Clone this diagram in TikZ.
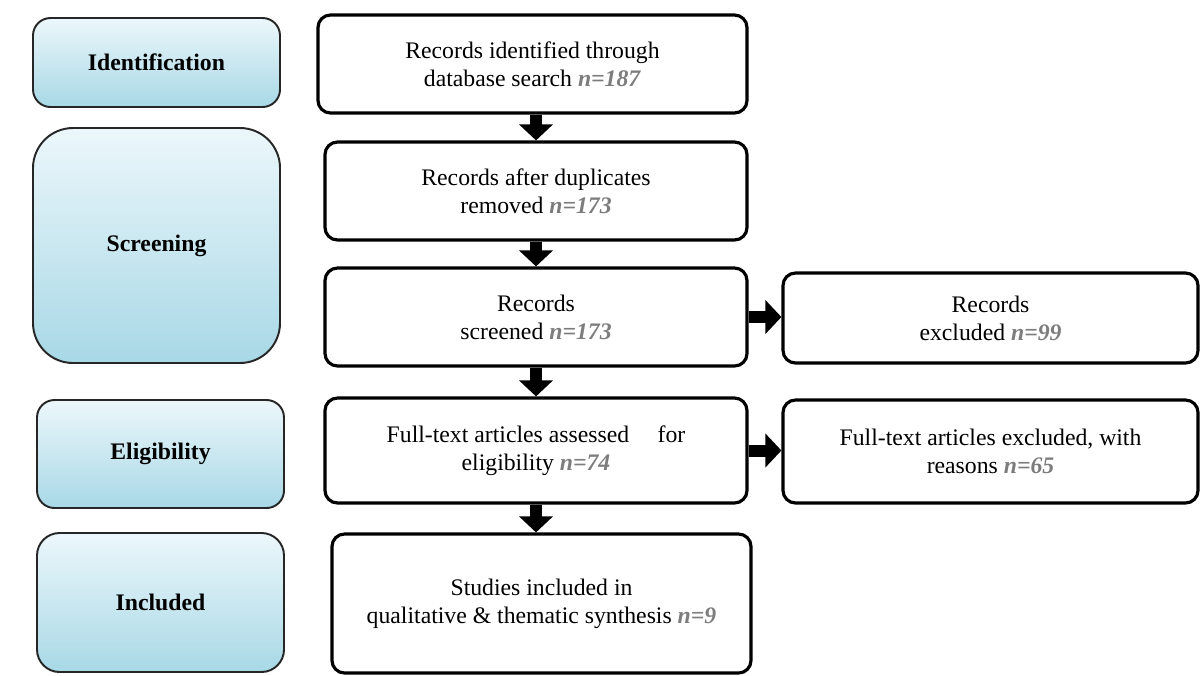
\documentclass[tikz,border=0pt]{standalone}
\usepackage{fontspec}
\setmainfont{Liberation Serif}
\usepackage{tikz}
\usetikzlibrary{arrows.meta}
\definecolor{stagetop}{RGB}{236,247,251}
\definecolor{stagebottom}{RGB}{168,216,230}
\definecolor{ngray}{RGB}{125,125,125}
\newcommand{\nval}[1]{\textcolor{ngray}{\textbf{\textit{n=#1}}}}

\begin{document}
\begin{tikzpicture}[font=\fontsize{13.5}{16}\selectfont]
                \useasboundingbox (0,0) rectangle (24,-13.5);
                \tikzstyle{stage}=[rectangle, draw=black!85, line width=1.1pt, rounded corners=0.35cm, top color=stagetop, bottom color=stagebottom, minimum width=4.94cm, font=\fontsize{13.5}{16}\selectfont\bfseries]
                \tikzstyle{box}=[rectangle, draw, line width=1.8pt, rounded corners=0.25cm, minimum width=8.44cm, minimum height=1.96cm, align=center]
                \node[stage, minimum height=1.78cm] (S1) at (3.13,-1.25) {Identification};
                \node[stage, minimum height=4.7cm, rounded corners=0.8cm] (S2) at (3.13,-4.91) {Screening};
                \node[stage, minimum height=2.16cm] (S3) at (3.21,-9.08) {Eligibility};
                \node[stage, minimum height=2.78cm, rounded corners=0.45cm] (S4) at (3.21,-12.05) {Included};

                \node[box, minimum width=8.58cm] (B1) at (10.65,-1.28) {Records identified through\\database search \nval{187}};
                \node[box] (B2) at (10.72,-3.82) {Records after duplicates\\removed \nval{173}};
                \node[box] (B3) at (10.72,-6.34) {Records\\screened \nval{173}};
                \node[box, minimum height=2.1cm] (B4) at (10.72,-9.01) {Full-text articles assessed\hspace{1.2em}for\\eligibility \nval{74}};
                \node[box, minimum width=8.38cm, minimum height=2.78cm] (B5) at (10.83,-12.07) {Studies included in\\qualitative \& thematic synthesis \nval{9}};
                \node[box, minimum width=8.3cm, minimum height=1.8cm] (E1) at (19.81,-6.36) {Records\\excluded \nval{99}};
                \node[box, minimum width=8.3cm, minimum height=2.06cm] (E2) at (19.81,-9.03) {Full-text articles excluded, with\\reasons \nval{65}};

                \tikzstyle{flow}=[line width=0.24cm, -{Triangle[width=0.66cm, length=0.32cm]}]

                \draw[flow] (B2.north |- B1.south) to (B2.north);
                \draw[flow] (B2.south) to (B3.north);
                \draw[flow] (B3.south) to (B4.north);
                \draw[flow] (B4.south) to (B4.south |- B5.north);
                \draw[flow] (B3.east) to (B3.east -| E1.west);
                \draw[flow] (B4.east) to (B4.east -| E2.west);
            \end{tikzpicture}
\end{document}
